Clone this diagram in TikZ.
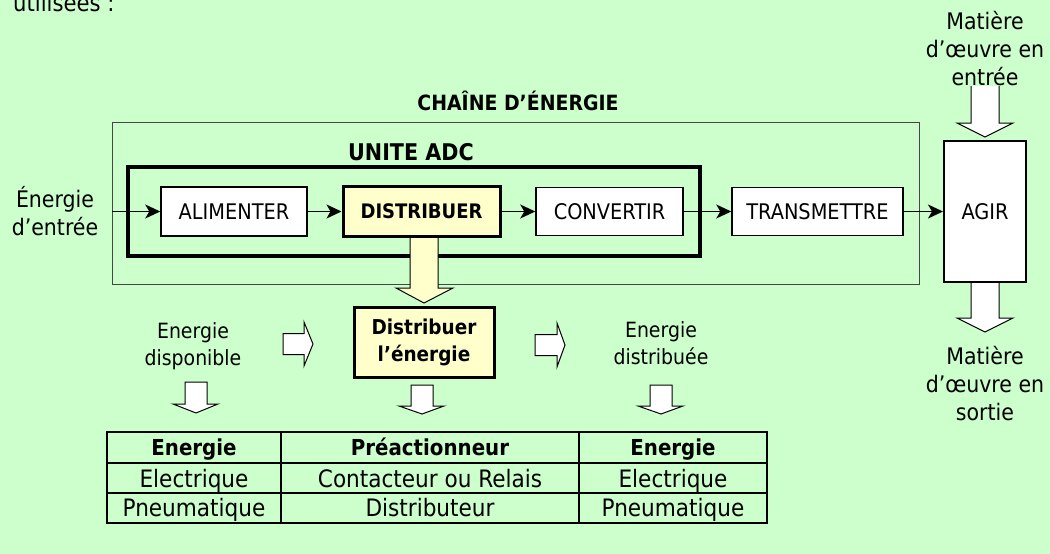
\documentclass[tikz,border=0pt]{standalone}
\usepackage{fontspec}
\setmainfont{DejaVu Sans Condensed}
\usetikzlibrary{arrows.meta}
\definecolor{bg}{RGB}{204,255,204}
\definecolor{pale}{RGB}{255,255,204}
\definecolor{framegray}{RGB}{70,70,70}
\begin{document}
\begin{tikzpicture}[x=1pt,y=-1pt,
  fbox/.style={draw=black, fill=white, line width=1.5pt, inner sep=0pt,
    font=\fontsize{21.5}{26}\selectfont},
  yelbox/.style={draw=black, fill=pale, line width=3pt, inner sep=0pt},
  conn/.style={line width=1.5pt, -{Stealth[length=15pt,width=14pt,inset=4pt]}},
  blockarr/.style={draw=black, fill=white, line width=1pt, line join=miter},
  lbl/.style={align=center, inner sep=0pt, font=\fontsize{21}{26.5}\selectfont},
  biglbl/.style={align=center, inner sep=0pt, font=\fontsize{22.8}{28}\selectfont},
  tline/.style={line width=2pt},
  thead/.style={anchor=base, inner sep=0pt, font=\bfseries\fontsize{22}{26}\selectfont},
  tcell/.style={anchor=base, inner sep=0pt, font=\fontsize{24}{28}\selectfont}
]
% background and bounding box
\fill[bg] (0,0) rectangle (1050,554);
\useasboundingbox (0,0) rectangle (1050,554);

% top text (cut by the upper edge, as in the reference)
\node[anchor=base west, inner sep=0pt, font=\fontsize{23.5}{28}\selectfont] (util) at (13,11.5) {utilisées :};

% outer frame (chaine d'energie)
\draw[framegray, line width=1pt] (112,122) rectangle (919,284);
\node[inner sep=0pt, font=\bfseries\fontsize{21}{25}\selectfont] (chaine) at (518,101) {CHAÎNE D’ÉNERGIE};

% unite ADC frame
\draw[black, line width=4pt] (128,167) rectangle (700,256);
\node[inner sep=0pt, font=\bfseries\fontsize{23}{27}\selectfont] (unite) at (411,152) {UNITE ADC};

% yellow block arrow down from DISTRIBUER
\path[draw=black, fill=pale, line width=1pt]
  (410,236) -- (410,288) -- (396,288) -- (424,303) -- (453,288) -- (438,288) -- (438,236) -- cycle;

% boxes
\node[fbox, minimum width=146pt, minimum height=49pt] (alim) at (234,211.5) {ALIMENTER};
\node[yelbox, minimum width=157pt, minimum height=50pt,
      font=\bfseries\fontsize{20}{24}\selectfont] (dist) at (421.5,211.5) {DISTRIBUER};
\node[fbox, minimum width=147pt, minimum height=48pt] (conv) at (609.5,211.5) {CONVERTIR};
\node[fbox, minimum width=171pt, minimum height=48pt] (trans) at (817.5,211.5) {TRANSMETTRE};
\node[fbox, line width=2pt, minimum width=82pt, minimum height=141pt] (agir) at (985,211.5) {AGIR};

% connectors
\coordinate (ein) at (112,211.5);
\draw[conn] (ein) -- (alim);
\draw[conn] (alim) -- (dist);
\draw[conn] (dist) -- (conv);
\draw[conn] (conv) -- (trans);
\draw[conn] (trans) -- (agir);

\node[biglbl] (eentree) at (55,211) {Énergie\\d’entrée};

% matiere arrows
\path[fill=white] (971,86) -- (971,123) -- (957,123) -- (985,137) -- (1013,123) -- (999,123) -- (999,86) -- cycle;
\draw[black, line width=1pt, line join=miter] (971,86) -- (971,123) -- (957,123) -- (985,137) -- (1013,123) -- (999,123) -- (999,86);
\path[fill=white] (971,283) -- (971,318) -- (957,318) -- (985,332) -- (1013,318) -- (999,318) -- (999,283) -- cycle;
\draw[black, line width=1pt, line join=miter] (971,283) -- (971,318) -- (957,318) -- (985,332) -- (1013,318) -- (999,318) -- (999,283);
\node[biglbl] (matin) at (985,49) {Matière\\d’œuvre en\\entrée};
\node[biglbl] (matout) at (985,384) {Matière\\d’œuvre en\\sortie};

% middle row
\node[yelbox, minimum width=140pt, minimum height=70pt, align=center,
      font=\bfseries\fontsize{20.5}{27}\selectfont] (dle) at (424,342) {Distribuer\\l’énergie};
\node[lbl] (edisp) at (193,346) {Energie\\disponible};
\node[lbl] (edistr) at (661,343) {Energie\\distribuée};

% hollow right arrows
\path[blockarr] (283,333.5) -- (304,333.5) -- (304,322) -- (313,344) -- (304,366) -- (304,354.5) -- (283,354.5) -- cycle;
\path[blockarr] (535,334.5) -- (557,334.5) -- (557,323) -- (565,345) -- (557,367) -- (557,355.5) -- (535,355.5) -- cycle;

% hollow down arrows
\path[blockarr] (185,382) -- (185,404) -- (173,404) -- (196,413) -- (218,404) -- (207,404) -- (207,382) -- cycle;
\path[blockarr] (411,385) -- (411,406) -- (399,406) -- (422,414) -- (444,406) -- (433,406) -- (433,385) -- cycle;
\path[blockarr] (650,385) -- (650,406) -- (638,406) -- (661,414) -- (683,406) -- (672,406) -- (672,385) -- cycle;

% table
\draw[tline] (107,432) rectangle (767,523);
\draw[tline] (107,463) -- (767,463);
\draw[tline] (107,493) -- (767,493);
\draw[tline] (281,432) -- (281,523);
\draw[tline] (579,432) -- (579,523);
\node[thead] (h1) at (194,455) {Energie};
\node[thead] (h2) at (430,455) {Préactionneur};
\node[thead] (h3) at (673,455) {Energie};
\node[tcell] (r11) at (194,487) {Electrique};
\node[tcell] (r12) at (430,487) {Contacteur ou Relais};
\node[tcell] (r13) at (673,487) {Electrique};
\node[tcell] (r21) at (194,516.5) {Pneumatique};
\node[tcell] (r22) at (430,516.5) {Distributeur};
\node[tcell] (r23) at (673,516.5) {Pneumatique};
\end{tikzpicture}
\end{document}
